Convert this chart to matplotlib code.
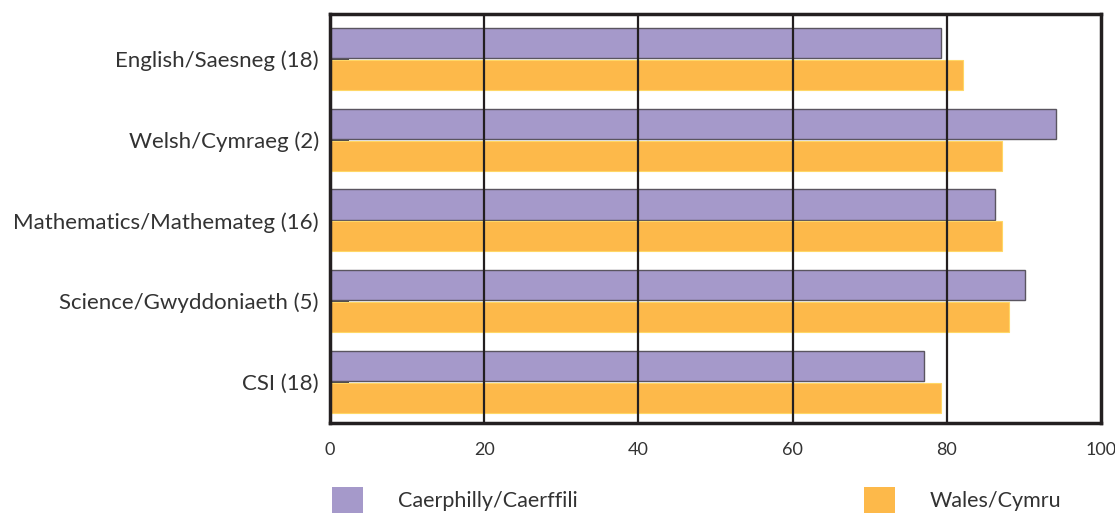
import numpy as np
import matplotlib
matplotlib.use("Agg")
from matplotlib import pyplot as plt

# data
subjects = ["English/Saesneg (18)", "Welsh/Cymraeg (2)", "Mathematics/Mathemateg (16)",
            "Science/Gwyddoniaeth (5)", "CSI (18)"]
caerphilly = [79.2, 94.2, 86.2, 90.1, 77.1]
wales = [82.1, 87.1, 87.1, 88.1, 79.2]
series_names = ["Caerphilly/Caerffili", "Wales/Cymru"]
xticks = [0, 20, 40, 60, 80, 100]

plt.rcParams['font.family'] = ['Lato', 'DejaVu Sans']

fig = plt.figure(figsize=(11.15, 5.15), dpi=100)
ax = fig.add_axes([0.296, 0.1786, 0.6914, 0.7944])

y = np.arange(len(subjects))
h = 0.372
b1 = ax.barh(y - 0.198, caerphilly, height=h, color="#A599CA", edgecolor="#5a5560",
             linewidth=1.0, zorder=2, label=series_names[0])
b2 = ax.barh(y + 0.198, wales, height=h, color="#FDB94A", edgecolor="#FFD766",
             linewidth=0.8, zorder=2, label=series_names[1])

ax.set_xlim(0, 100)
ax.set_ylim(len(subjects) - 0.49, -0.56)
ax.set_yticks(y)
ax.set_yticklabels(subjects, fontsize=16, color="#333333")
ax.set_xticks(xticks)
ax.set_xticklabels([str(t) for t in xticks], fontsize=13, color="#333333")
ax.tick_params(axis='y', direction='in', length=14, width=1.2, color="#231F20", pad=8)
ax.tick_params(axis='x', length=0, pad=14)

for t in xticks[1:-1]:
    ax.axvline(t, color="#231F20", linewidth=1.6, zorder=3)

for s in ax.spines.values():
    s.set_linewidth(2.5)
    s.set_color("#231F20")
    s.set_zorder(4)

leg = fig.legend(handles=[b1, b2], labels=series_names, loc="center left",
                 bbox_to_anchor=(0.2978, 0.029), ncol=2, frameon=False,
                 fontsize=15.5, handlelength=1.45, handleheight=1.45,
                 handletextpad=1.6, columnspacing=13.3,
                 borderpad=0, borderaxespad=0)
for txt in leg.get_texts():
    txt.set_color("#333333")
for hnd in leg.legend_handles:
    hnd.set_edgecolor("none")

fig.savefig("out.png", dpi=100)
